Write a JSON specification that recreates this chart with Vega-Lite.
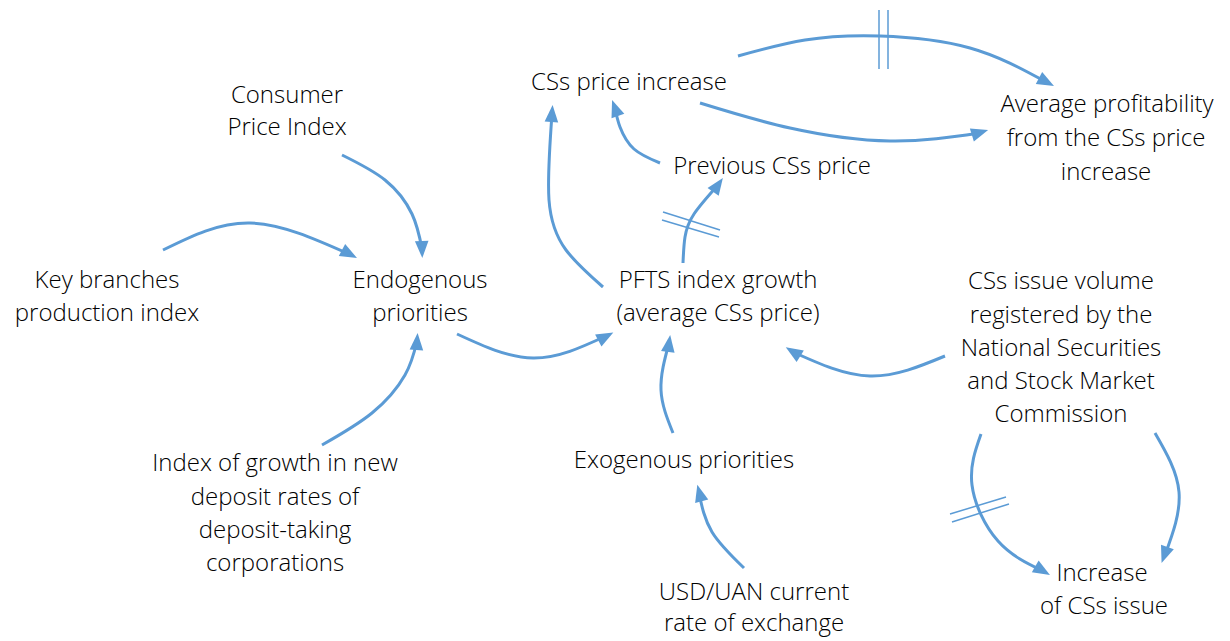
{
  "$schema": "https://vega.github.io/schema/vega-lite/v6.json",
  "width": 1230,
  "height": 641,
  "autosize": {"type": "fit", "contains": "padding"},
  "padding": 0,
  "background": "white",
  "config": {"view": {"stroke": null}},
  "datasets": {
    "labels": [
      {"t": "Consumer", "x": 287, "y": 95},
      {"t": "Price Index", "x": 287, "y": 127},
      {"t": "Key branches", "x": 107, "y": 280},
      {"t": "production index", "x": 107, "y": 313},
      {"t": "Endogenous", "x": 420, "y": 280},
      {"t": "priorities", "x": 420, "y": 313},
      {"t": "CSs price increase", "x": 629, "y": 82},
      {"t": "Previous CSs price", "x": 772, "y": 166},
      {"t": "Average profitability", "x": 1107, "y": 104},
      {"t": "from the CSs price", "x": 1106, "y": 138},
      {"t": "increase", "x": 1106, "y": 172},
      {"t": "PFTS index growth", "x": 718, "y": 280},
      {"t": "(average CSs price)", "x": 718, "y": 313},
      {"t": "CSs issue volume", "x": 1061, "y": 281},
      {"t": "registered by the", "x": 1061, "y": 315},
      {"t": "National Securities", "x": 1061, "y": 348},
      {"t": "and Stock Market", "x": 1061, "y": 381},
      {"t": "Commission", "x": 1061, "y": 414},
      {"t": "Index of growth in new", "x": 275, "y": 463},
      {"t": "deposit rates of", "x": 275, "y": 497},
      {"t": "deposit-taking", "x": 275, "y": 530},
      {"t": "corporations", "x": 275, "y": 563},
      {"t": "Exogenous priorities", "x": 684, "y": 460},
      {"t": "USD/UAN current", "x": 754, "y": 592},
      {"t": "rate of exchange", "x": 754, "y": 623},
      {"t": "Increase", "x": 1102, "y": 573},
      {"t": "of CSs issue", "x": 1104, "y": 606}
    ],
    "curves": [
      {"id": "c1", "i": 0, "x": 738, "y": 56}, {"id": "c1", "i": 1, "x": 805, "y": 40}, {"id": "c1", "i": 2, "x": 880, "y": 36}, {"id": "c1", "i": 3, "x": 970, "y": 48}, {"id": "c1", "i": 4, "x": 1046, "y": 82},
      {"id": "c2", "i": 0, "x": 700, "y": 103}, {"id": "c2", "i": 1, "x": 790, "y": 128}, {"id": "c2", "i": 2, "x": 890, "y": 141}, {"id": "c2", "i": 3, "x": 980, "y": 133},
      {"id": "c3", "i": 0, "x": 660, "y": 163}, {"id": "c3", "i": 1, "x": 634, "y": 149}, {"id": "c3", "i": 2, "x": 620, "y": 127}, {"id": "c3", "i": 3, "x": 615, "y": 108},
      {"id": "c4", "i": 0, "x": 683, "y": 263}, {"id": "c4", "i": 1, "x": 685, "y": 237}, {"id": "c4", "i": 2, "x": 694, "y": 214}, {"id": "c4", "i": 3, "x": 718, "y": 185},
      {"id": "c5", "i": 0, "x": 603, "y": 287}, {"id": "c5", "i": 1, "x": 566, "y": 250}, {"id": "c5", "i": 2, "x": 549, "y": 200}, {"id": "c5", "i": 3, "x": 552, "y": 114},
      {"id": "c6", "i": 0, "x": 342, "y": 155}, {"id": "c6", "i": 1, "x": 385, "y": 180}, {"id": "c6", "i": 2, "x": 412, "y": 214}, {"id": "c6", "i": 3, "x": 422, "y": 249},
      {"id": "c7", "i": 0, "x": 163, "y": 250}, {"id": "c7", "i": 1, "x": 250, "y": 223}, {"id": "c7", "i": 2, "x": 349, "y": 254},
      {"id": "c8", "i": 0, "x": 322, "y": 445}, {"id": "c8", "i": 1, "x": 372, "y": 413}, {"id": "c8", "i": 2, "x": 405, "y": 375}, {"id": "c8", "i": 3, "x": 417, "y": 341},
      {"id": "c9", "i": 0, "x": 457, "y": 334}, {"id": "c9", "i": 1, "x": 533, "y": 358}, {"id": "c9", "i": 2, "x": 606, "y": 336},
      {"id": "c10", "i": 0, "x": 673, "y": 433}, {"id": "c10", "i": 1, "x": 661, "y": 390}, {"id": "c10", "i": 2, "x": 669, "y": 343},
      {"id": "c11", "i": 0, "x": 744, "y": 568}, {"id": "c11", "i": 1, "x": 712, "y": 532}, {"id": "c11", "i": 2, "x": 699, "y": 493},
      {"id": "c12", "i": 0, "x": 945, "y": 356}, {"id": "c12", "i": 1, "x": 870, "y": 376}, {"id": "c12", "i": 2, "x": 793, "y": 352},
      {"id": "c13", "i": 0, "x": 981, "y": 434}, {"id": "c13", "i": 1, "x": 972, "y": 485}, {"id": "c13", "i": 2, "x": 998, "y": 541}, {"id": "c13", "i": 3, "x": 1043, "y": 571},
      {"id": "c14", "i": 0, "x": 1155, "y": 433}, {"id": "c14", "i": 1, "x": 1179, "y": 492}, {"id": "c14", "i": 2, "x": 1165, "y": 555}
    ],
    "heads": [
      {"x": 1046.5, "y": 82, "a": 118},
      {"x": 980, "y": 132.5, "a": 73},
      {"x": 615, "y": 108, "a": 340},
      {"x": 718, "y": 185, "a": 35},
      {"x": 552, "y": 113.5, "a": 4},
      {"x": 422, "y": 249.5, "a": 178},
      {"x": 349.5, "y": 254, "a": 118},
      {"x": 417, "y": 341.5, "a": 4},
      {"x": 605.8, "y": 336.5, "a": 62},
      {"x": 669, "y": 343.5, "a": 8},
      {"x": 699.5, "y": 493, "a": 345},
      {"x": 793, "y": 351.8, "a": 302},
      {"x": 1042.6, "y": 570.7, "a": 120},
      {"x": 1164.5, "y": 555, "a": 200}
    ],
    "bars": [
      {"x": 879, "y": 10, "x2": 879, "y2": 69},
      {"x": 888, "y": 10, "x2": 888, "y2": 69},
      {"x": 663, "y": 212, "x2": 720, "y2": 230},
      {"x": 662, "y": 220, "x2": 719, "y2": 237},
      {"x": 950, "y": 514, "x2": 1006, "y2": 497},
      {"x": 952, "y": 522, "x2": 1009, "y2": 504}
    ]
  },
  "layer": [
    {
      "data": {"name": "curves"},
      "mark": {"type": "line", "interpolate": "natural", "stroke": "#5B9BD5", "strokeWidth": 3, "strokeCap": "butt"},
      "encoding": {
        "x": {"field": "x", "type": "quantitative", "scale": {"domain": [0, 1230], "nice": false, "zero": false}, "axis": null},
        "y": {"field": "y", "type": "quantitative", "scale": {"domain": [0, 641], "nice": false, "zero": false, "reverse": true}, "axis": null},
        "detail": {"field": "id", "type": "nominal"},
        "order": {"field": "i", "type": "quantitative"}
      }
    },
    {
      "data": {"name": "bars"},
      "mark": {"type": "rule", "stroke": "#5B9BD5", "strokeWidth": 1.5},
      "encoding": {
        "x": {"field": "x", "type": "quantitative", "scale": {"domain": [0, 1230], "nice": false, "zero": false}, "axis": null},
        "y": {"field": "y", "type": "quantitative", "scale": {"domain": [0, 641], "nice": false, "zero": false, "reverse": true}, "axis": null},
        "x2": {"field": "x2"},
        "y2": {"field": "y2"}
      }
    },
    {
      "data": {"name": "heads"},
      "mark": {"type": "point", "shape": "M0,-1L0.8,1L-0.8,1Z", "filled": true, "fill": "#5B9BD5", "opacity": 1, "size": 289, "strokeWidth": 0},
      "encoding": {
        "x": {"field": "x", "type": "quantitative", "scale": {"domain": [0, 1230], "nice": false, "zero": false}, "axis": null},
        "y": {"field": "y", "type": "quantitative", "scale": {"domain": [0, 641], "nice": false, "zero": false, "reverse": true}, "axis": null},
        "angle": {"field": "a", "type": "quantitative", "scale": null}
      }
    },
    {
      "data": {"name": "labels"},
      "mark": {"type": "text", "font": "Open Sans", "fontWeight": 300, "fontSize": 24, "fill": "#000000", "align": "center", "baseline": "middle", "dy": 1},
      "encoding": {
        "x": {"field": "x", "type": "quantitative", "scale": {"domain": [0, 1230], "nice": false, "zero": false}, "axis": null},
        "y": {"field": "y", "type": "quantitative", "scale": {"domain": [0, 641], "nice": false, "zero": false, "reverse": true}, "axis": null},
        "text": {"field": "t", "type": "nominal"}
      }
    }
  ]
}
